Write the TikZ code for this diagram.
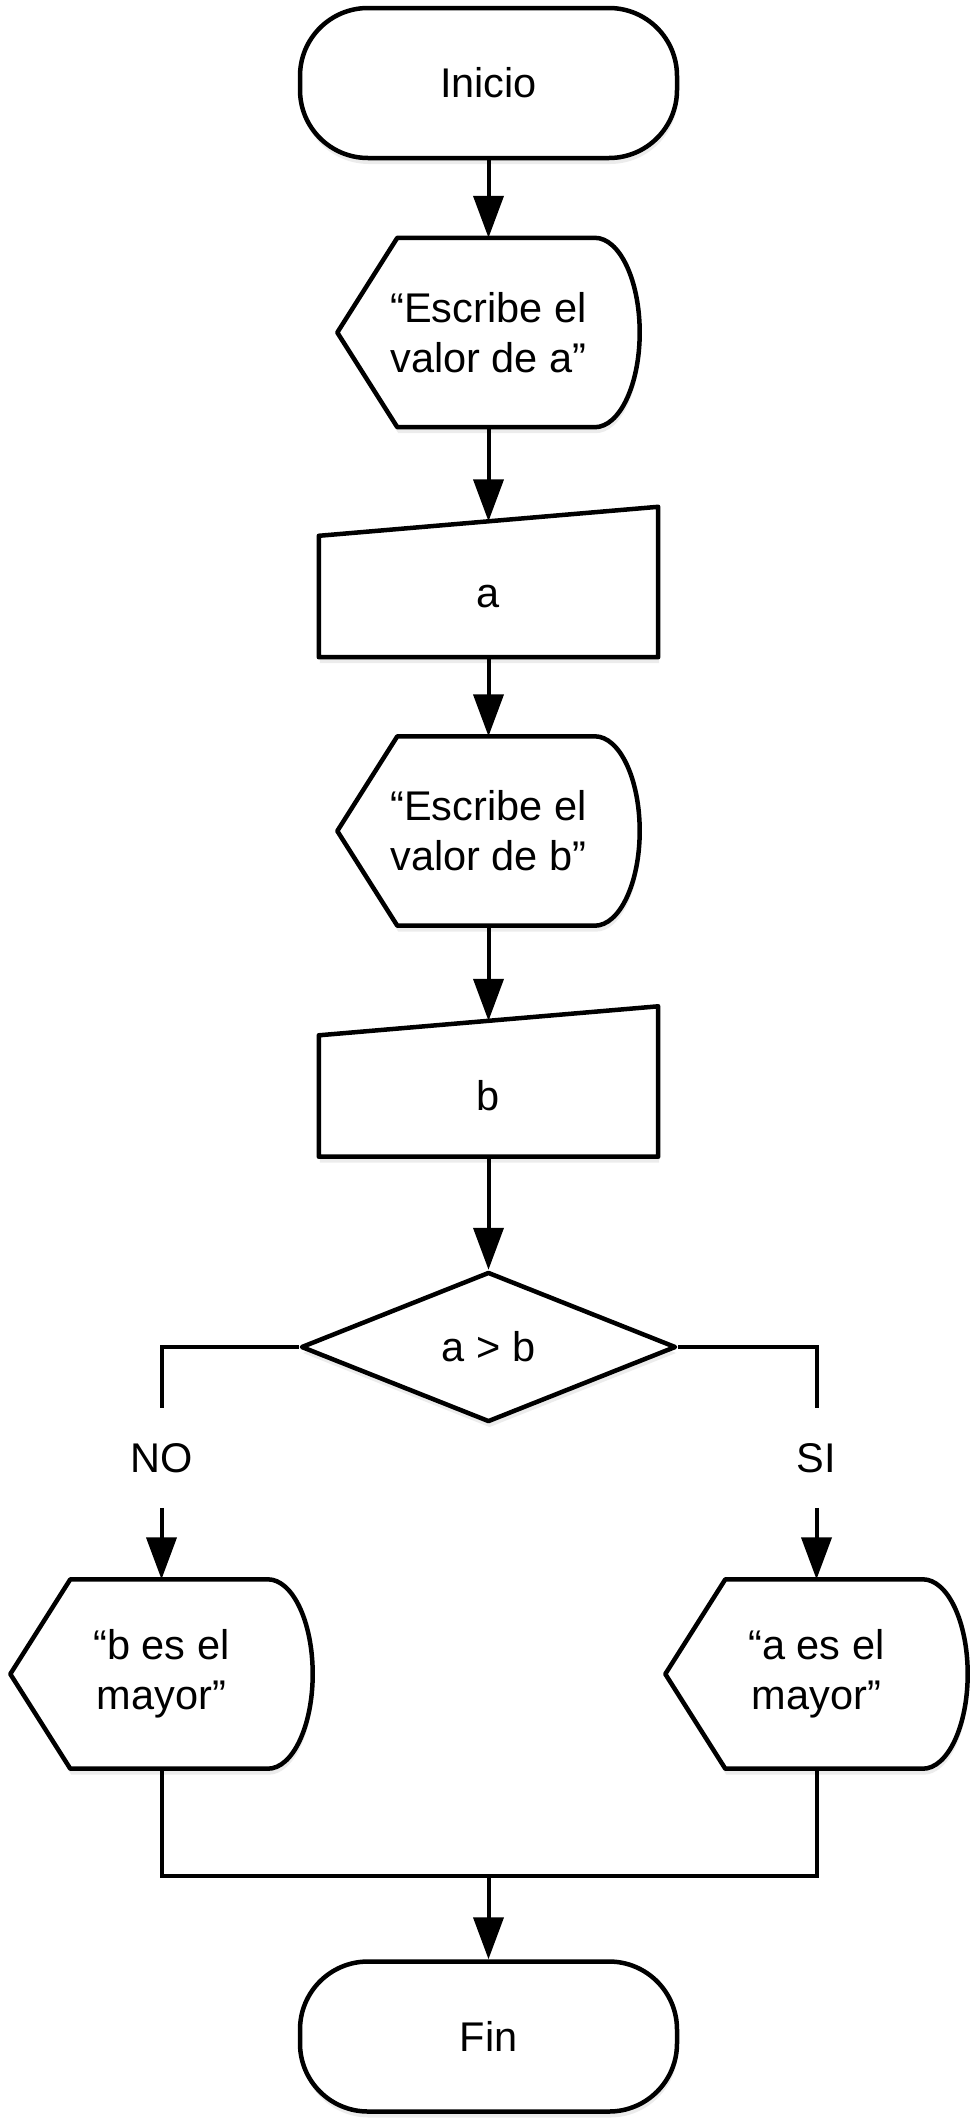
\documentclass[tikz,border=0pt]{standalone}
\usepackage{fontspec}
\setmainfont{Liberation Sans}
\usetikzlibrary{shapes.geometric,arrows.meta,calc,shadows,backgrounds}
\newcommand\dispshape[1]{%
  \draw[shp] (#1.west) -- ($(#1.north west)+(60,0)$) -- ($(#1.north east)+(-45,0)$)
    .. controls +(25,0) and +(0,-52) .. (#1.east)
    .. controls +(0,52) and +(25,0) .. ($(#1.south east)+(-45,0)$)
    -- ($(#1.south west)+(60,0)$) -- cycle;}
\newcommand\inshape[1]{%
  \draw[shp] (#1.south west) -- (#1.north west) -- ($(#1.north east)+(0,-29)$)
    -- (#1.south east) -- cycle;}
\begin{document}
\begin{tikzpicture}[x=1pt,y=-1pt,
  every node/.style={font=\fontsize{41.5}{50}\selectfont,align=center,inner sep=0pt},
  shp/.style={draw,line width=4.5pt,fill=white,line join=round,
    drop shadow={opacity=0.15,shadow xshift=1pt,shadow yshift=-6pt}},
  term/.style={shp,rounded corners=68pt,minimum width=377pt,minimum height=150pt},
  decision/.style={shp,diamond,aspect=2.5,minimum width=375pt,minimum height=150pt},
  dispbox/.style={minimum width=302pt,minimum height=189pt},
  inbox/.style={minimum width=339pt,minimum height=121pt},
  lbl/.style={inner ysep=35pt},
  line/.style={line width=4pt},
  arr/.style={line,-{Triangle[length=42pt,width=30pt]}}]
\useasboundingbox (0,0) rectangle (974,2120);

\node[term] (ini) at (488.5,83) {Inicio};
\node[dispbox] (d1) at (488.5,332.5) {“Escribe el\\valor de a”};
\node[inbox] (m1) at (488.5,596.5) {a};
\node[dispbox] (d2) at (488.5,831) {“Escribe el\\valor de b”};
\node[inbox] (m2) at (488.5,1096) {b};
\node[decision] (dec) at (488.5,1347) {a > b};
\node[lbl] (no) at (161.5,1458) {NO};
\node[lbl] (si) at (816.5,1458) {SI};
\node[dispbox] (d3) at (161.5,1674) {“b es el\\mayor”};
\node[dispbox] (d4) at (816.5,1674) {“a es el\\mayor”};
\node[term] (fin) at (488.5,2036.5) {Fin};
\coordinate (m1top) at ($(m1.north)+(0,-14.5)$);
\coordinate (m2top) at ($(m2.north)+(0,-14.5)$);
\coordinate (j) at (488.5,1876);

\begin{pgfonlayer}{background}
\dispshape{d1}
\inshape{m1}
\dispshape{d2}
\inshape{m2}
\dispshape{d3}
\dispshape{d4}
\end{pgfonlayer}

\draw[arr] (ini) -- (d1);
\draw[arr] (d1) -- (m1top);
\draw[arr] (m1) -- (d2);
\draw[arr] (d2) -- (m2top);
\draw[arr] (m2) -- (dec);
\draw[line] (dec.west) -| (no.north);
\draw[line] (dec.east) -| (si.north);
\draw[arr] (no.south) -- (d3);
\draw[arr] (si.south) -- (d4);
\draw[line] (d3.south) |- (j);
\draw[line] (d4.south) |- (j);
\draw[arr] (j) -- (fin);
\end{tikzpicture}
\end{document}
